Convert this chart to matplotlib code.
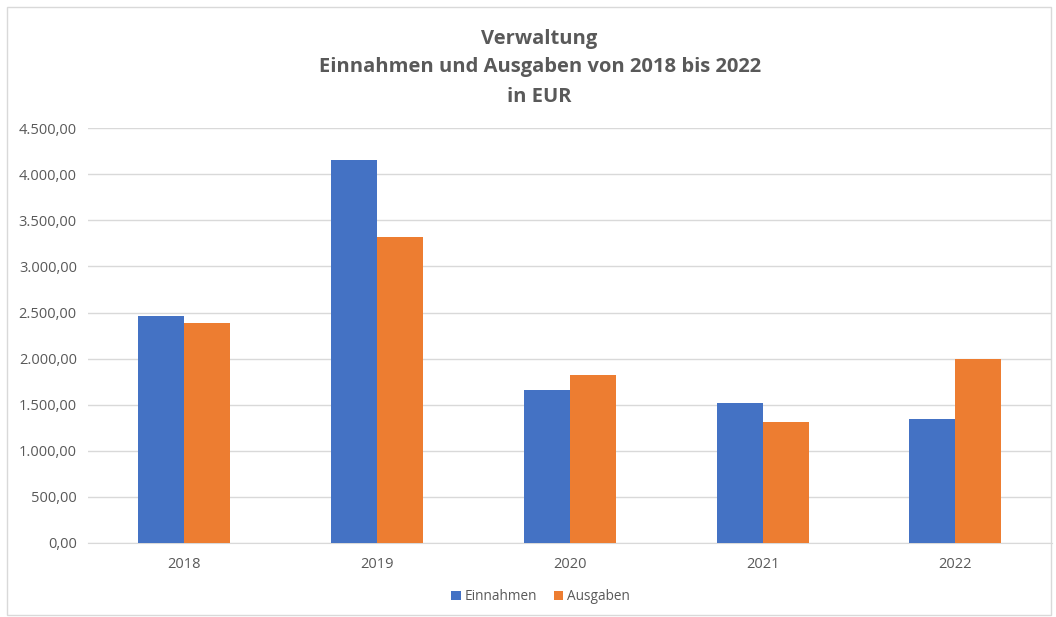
import matplotlib
matplotlib.use("Agg")
import matplotlib.pyplot as plt
import numpy as np
from matplotlib.ticker import FuncFormatter, MultipleLocator
from matplotlib.patches import Rectangle

years = ["2018", "2019", "2020", "2021", "2022"]
einnahmen = [2462, 4159, 1661, 1514, 1347]
ausgaben = [2382, 3320, 1818, 1311, 1998]

blue = "#4472C4"
orange = "#ED7D31"
gray_text = "#595959"
grid_col = "#D9D9D9"

plt.rcParams['font.family'] = ['Open Sans', 'DejaVu Sans']

fig = plt.figure(figsize=(10.56, 6.17), dpi=100)
ax = fig.add_axes([0.0833, 0.1204, 0.9127, 0.6716])

x = np.arange(len(years))
w = 1 / (2 + 2.19)
ax.bar(x - w / 2, einnahmen, width=w, color=blue, label="Einnahmen", zorder=3)
ax.bar(x + w / 2, ausgaben, width=w, color=orange, label="Ausgaben", zorder=3)

ax.set_xlim(-0.5, len(years) - 0.5)
ax.set_ylim(0, 4500)
ax.yaxis.set_major_locator(MultipleLocator(500))

def de_fmt(v, pos):
    s = f"{v:,.2f}"
    return s.replace(",", "X").replace(".", ",").replace("X", ".")

ax.yaxis.set_major_formatter(FuncFormatter(de_fmt))
ax.set_xticks(x)
ax.set_xticklabels(years)
ax.grid(axis="y", color=grid_col, linewidth=1, zorder=0)
for s in ["top", "right", "left"]:
    ax.spines[s].set_visible(False)
ax.spines["bottom"].set_color(grid_col)
ax.tick_params(axis="both", length=0, labelsize=10.5, colors=gray_text)
ax.tick_params(axis="x", pad=10)
ax.tick_params(axis="y", pad=8)

for ty, txt in [(0.937, "Verwaltung"),
                (0.891, "Einnahmen und Ausgaben von 2018 bis 2022"),
                (0.842, "in EUR")]:
    fig.text(0.511, ty, txt, ha="center", va="center", fontsize=14.5,
             fontweight="bold", color=gray_text)

leg = fig.legend(loc="center", bbox_to_anchor=(0.512, 0.033), ncol=2, frameon=False,
                 fontsize=9.8, handlelength=0.7, handleheight=0.7, handletextpad=0.3,
                 columnspacing=1.2)
for t in leg.get_texts():
    t.set_color(gray_text)

fig.patches.append(Rectangle((0.007, 0.003), 0.988, 0.985, transform=fig.transFigure,
                             fill=False, edgecolor=grid_col, linewidth=1))

fig.savefig("out.png", dpi=100, facecolor="white")
